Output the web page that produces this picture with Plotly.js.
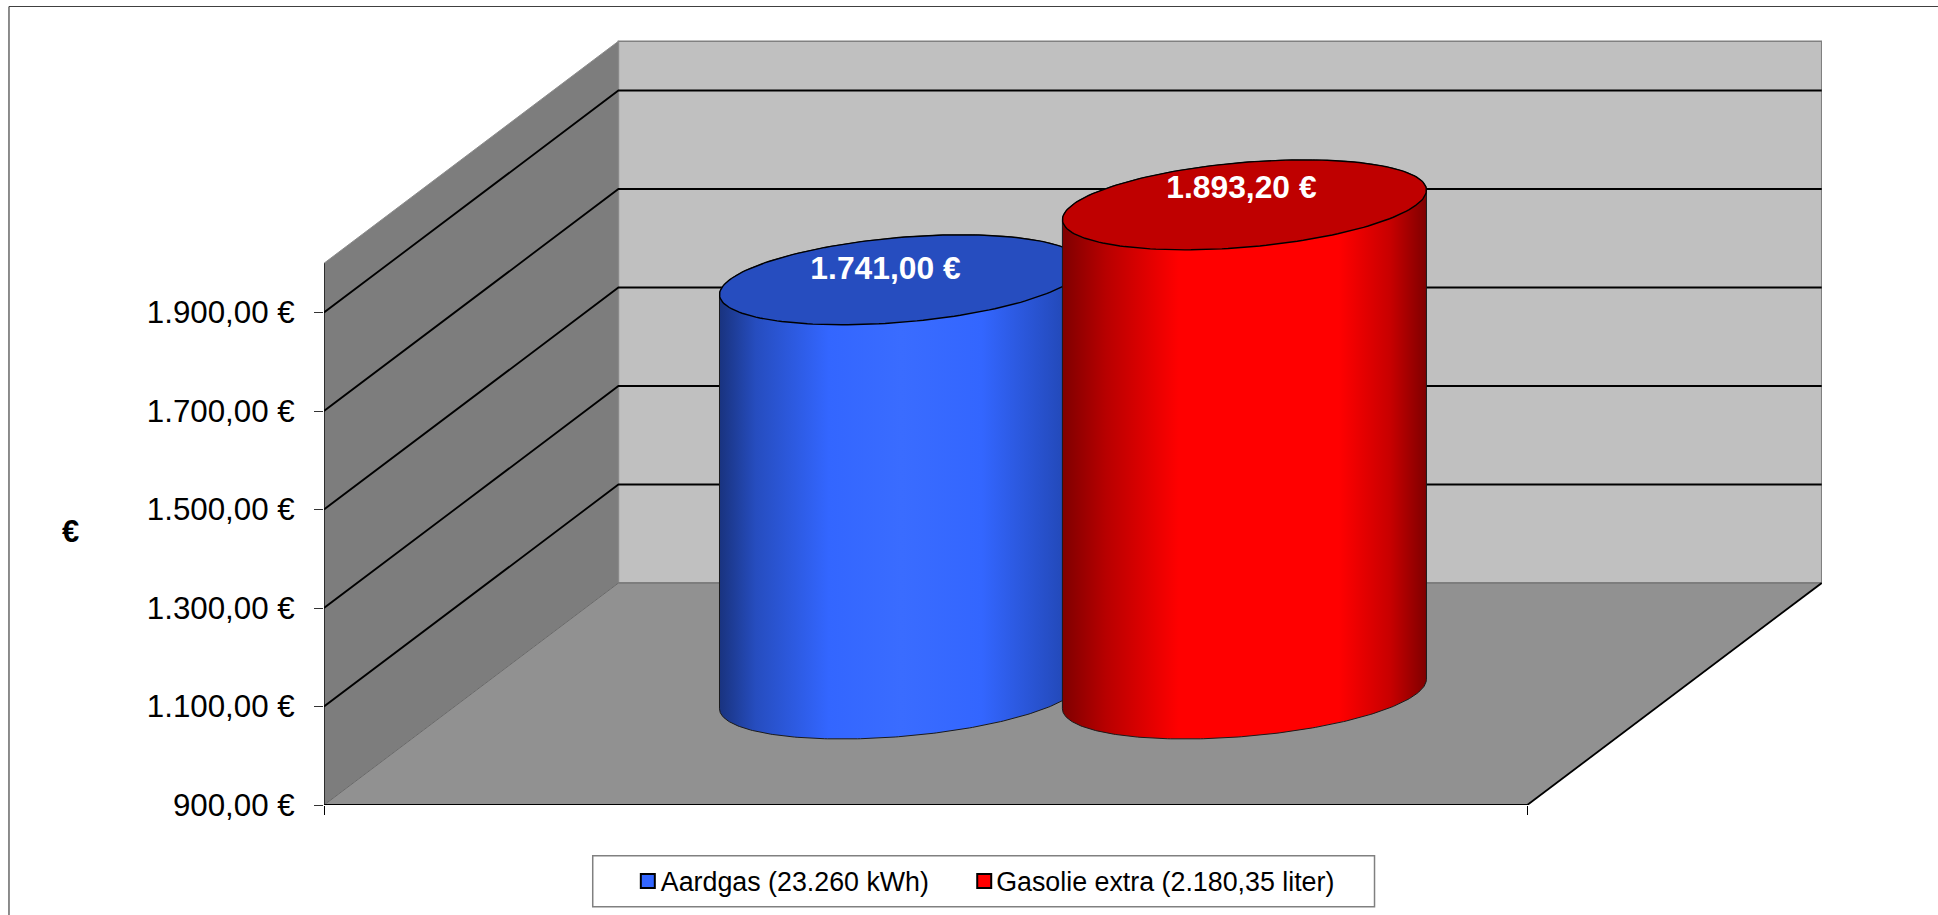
<!DOCTYPE html>
<html>
<head>
<meta charset="utf-8">
<script src="https://cdn.plot.ly/plotly-3.0.1.min.js"></script>
<style>html,body{margin:0;padding:0;background:#fff;overflow:hidden}#chart{width:1938px;height:915px}</style>
</head>
<body>
<div id="chart"></div>
<script>
// ---- data ----
const seriesNames = ['Aardgas (23.260 kWh)', 'Gasolie extra (2.180,35 liter)'];
const seriesValues = [1741.00, 1893.20];
const axisTicks = [900, 1100, 1300, 1500, 1700, 1900];
const axisTickLabels = ['900,00 €', '1.100,00 €', '1.300,00 €', '1.500,00 €', '1.700,00 €', '1.900,00 €'];
const gridValues = [1100, 1300, 1500, 1700, 1900];
const axisMin = 900, axisMax = 2000;
const bodyColors = ['#3366ff', '#ff0000'];
const topColors = ['#264dbf', '#bf0000'];
const edgeColorsBlue = [[0,'#19337f'],[0.1,'#264dbf'],[0.3,'#3366ff'],[0.5,'#3a6cff'],[0.72,'#3366ff'],[1,'#1f42a8']];
const edgeColorsRed = [[0,'#7f0000'],[0.12,'#b80000'],[0.32,'#ff0000'],[0.76,'#ff0000'],[0.9,'#c80000'],[1,'#7f0000']];

// ---- pseudo-3D frame, in axis units ----
const W = 1938, H = 915;
const L = 323.6, R = 1822, T = 40, B = 805;
const pxPerEuro = 0.4925;
const pxPerX = 1203.6;
const depthX = 294.5 / pxPerX;         // oblique depth in x units
const depthY = 222 / pxPerEuro;        // oblique depth in y units
const xTop = (R - L) / pxPerX;
const yTop = axisMin + (B - T) / pxPerEuro;
const slots = [0.3576, 0.6426];        // cluster positions along the front edge
const halfW = 172 / pxPerX;            // half-width of cylinder along x
const radD = 0.2027;                   // radius as share of depth

const pxX = v => (v - L) / (R - L);    // page px -> paper
const pxY = v => (B - v) / (B - T);

function poly(x, y, fill, line, lw) {
  return {
    type: 'scatter', mode: lw ? 'lines' : 'none', x, y, fill: 'toself', fillcolor: fill,
    line: {color: line || fill, width: lw || 0}, hoverinfo: 'skip', showlegend: false
  };
}
function seg(x, y, color, w) {
  return {type:'scatter', mode:'lines', x, y, line:{color, width:w}, hoverinfo:'skip', showlegend:false};
}
const traces = [];
// walls and floor
traces.push(poly([depthX, 1+depthX, 1+depthX, depthX, depthX],
  [axisMin+depthY, axisMin+depthY, axisMax+depthY, axisMax+depthY, axisMin+depthY], '#c0c0c0', '#808080', 1.5));
traces.push(poly([0, depthX, depthX, 0, 0],
  [axisMin, axisMin+depthY, axisMax+depthY, axisMax, axisMin], '#7d7d7d', '#8c8c8c', 1));
traces.push(poly([0, 1, 1+depthX, depthX, 0],
  [axisMin, axisMin, axisMin+depthY, axisMin+depthY, axisMin], '#919191', '#6a6a6a', 1));
// gridlines
gridValues.forEach(v => {
  traces.push(seg([0, depthX, 1+depthX], [v, v+depthY, v+depthY], '#000000', 1.8));
});
// frame edges
traces.push(seg([0, 0], [axisMin, axisMax], '#000000', 1.3));
traces.push(seg([0, 1], [axisMin, axisMin], '#000000', 2.2));
traces.push(seg([1, 1+depthX], [axisMin, axisMin+depthY], '#000000', 1.8));

// cylinders
const STEPS = 180;
function ring(i, level, from, to) {
  const xs = [], ys = [];
  const cx = slots[i] + depthX/2, cy = level + depthY/2;
  for (let k = 0; k <= STEPS; k++) {
    const t = from + (to - from) * k / STEPS;
    xs.push(cx + halfW*Math.cos(t) + radD*depthX*Math.sin(t));
    ys.push(cy + radD*depthY*Math.sin(t));
  }
  return [xs, ys];
}
const tilt = Math.atan2(radD*depthX, halfW);
seriesValues.forEach((v, i) => {
  const base = ring(i, axisMin, tilt + Math.PI, tilt + 2*Math.PI); // left tangent -> front -> right tangent
  const top = ring(i, v, tilt, tilt + Math.PI);                    // right tangent -> back -> left tangent
  const bx = [...base[0], ...top[0], base[0][0]];
  const by = [...base[1], ...top[1], base[1][0]];
  const halfSpan = Math.hypot(halfW, radD*depthX);
  const cx = slots[i] + depthX/2;
  traces.push({
    type:'scatter', mode:'lines', x:bx, y:by, fill:'toself',
    fillgradient:{type:'horizontal', colorscale: i===0 ? edgeColorsBlue : edgeColorsRed, start:cx-halfSpan, stop:cx+halfSpan},
    line:{color:'#1a1a1a', width:1}, hoverinfo:'skip', showlegend:false
  });
  const cap = ring(i, v, 0, 2*Math.PI);
  traces.push(poly(cap[0], cap[1], topColors[i], '#000000', 1.4));
});

// data labels (white, on the cylinder tops)
const labelShiftX = [-16/pxPerX, -3/pxPerX];
const labelShiftY = [9/pxPerEuro, 15/pxPerEuro];
const fmt = v => v.toFixed(2).replace('.', ',').replace(/\B(?=(\d{3})+(?!\d))/, '.') + ' €';
traces.push({
  type:'scatter', mode:'text',
  x: seriesValues.map((v,i) => slots[i] + depthX/2 + labelShiftX[i]),
  y: seriesValues.map((v,i) => v + depthY/2 + labelShiftY[i]),
  text: seriesValues.map(fmt), textposition:'middle center',
  textfont:{family:'"Liberation Sans", Arial, sans-serif', size:31.8, color:'#ffffff', weight:700},
  hoverinfo:'skip', showlegend:false, cliponaxis:false
});

// legend entries, one legend each so each swatch sits where it does in the reference
seriesNames.forEach((n, i) => traces.push({
  type:'scatter', mode:'markers', x:[null], y:[null], name:n,
  legend: i === 0 ? 'legend' : 'legend2',
  marker:{symbol:'square', size:14, color:bodyColors[i], line:{color:'#000000', width:2}},
  hoverinfo:'skip', showlegend:true
}));

const FONT = '"Liberation Sans", Arial, sans-serif';
const legendBase = {xanchor:'left', yanchor:'bottom', y:pxY(902.5), bgcolor:'rgba(0,0,0,0)', borderwidth:0,
  font:{family:FONT, size:26.8, color:'#000'}};
const layout = {
  width:W, height:H, autosize:false,
  margin:{l:L, r:W-R, t:T, b:H-B, pad:0},
  paper_bgcolor:'#ffffff', plot_bgcolor:'rgba(0,0,0,0)',
  showlegend:true,
  xaxis:{range:[0, xTop], tickmode:'array', tickvals:[0,1], ticktext:['',''], ticks:'outside', ticklen:9, tickwidth:1, tickcolor:'#000',
    showgrid:false, zeroline:false, showline:false, fixedrange:true},
  yaxis:{range:[axisMin, yTop], tickmode:'array', tickvals:axisTicks, ticktext:axisTickLabels, ticks:'outside', ticklen:9, tickwidth:1, tickcolor:'#333',
    ticklabelstandoff:13, tickfont:{family:FONT, size:31.3, color:'#000'},
    showgrid:false, zeroline:false, showline:false, fixedrange:true},
  legend:Object.assign({x:pxX(627.5)}, legendBase),
  legend2:Object.assign({x:pxX(964)}, legendBase),
  annotations:[{xref:'paper', yref:'paper', x:pxX(70.5), y:pxY(531), text:'<b>€</b>', showarrow:false,
    xanchor:'center', yanchor:'middle', font:{family:FONT, size:31, color:'#000'}}],
  shapes:[
    {type:'line', xref:'paper', yref:'paper', x0:pxX(8.5), x1:pxX(1938), y0:pxY(6.5), y1:pxY(6.5), line:{color:'#404040', width:1.2}},
    {type:'line', xref:'paper', yref:'paper', x0:pxX(8.5), x1:pxX(8.5), y0:pxY(6.5), y1:pxY(915), line:{color:'#404040', width:1.2}},
    {type:'rect', xref:'paper', yref:'paper', x0:pxX(592.4), x1:pxX(1374.4), y0:pxY(855.7), y1:pxY(906.7), fillcolor:'#ffffff', line:{color:'#808080', width:1.5}}
  ]
};
Plotly.newPlot('chart', traces, layout, {displayModeBar:false, responsive:false}).then(() => {
  // the reference sets legend text closer to its swatch, and the row slightly lower, than the library allows
  document.querySelectorAll('#chart .legendtext').forEach(t => t.setAttribute('x', 33));
  document.querySelectorAll('#chart .legend2text').forEach(t => t.setAttribute('x', 32));
  document.querySelectorAll('#chart g.legend, #chart g.legend2').forEach(g => {
    const m = /translate\(([-\d.]+),\s*([-\d.]+)\)/.exec(g.getAttribute('transform'));
    if (m) g.setAttribute('transform', 'translate(' + m[1] + ',' + (parseFloat(m[2]) + 2.5) + ')');
  });
});
</script>
</body>
</html>
